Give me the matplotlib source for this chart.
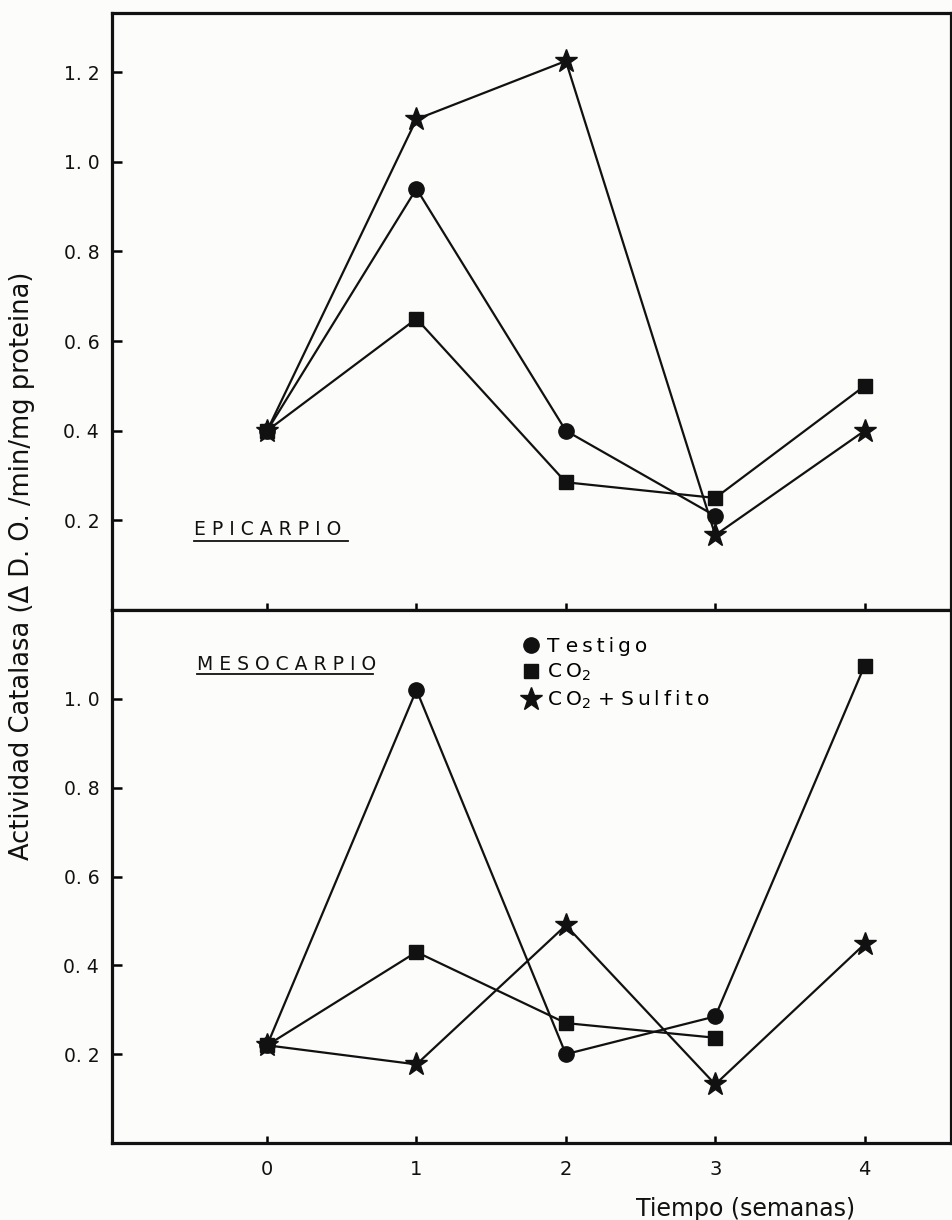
import matplotlib
matplotlib.use('Agg')
import matplotlib.pyplot as plt
from matplotlib.lines import Line2D

# data
weeks = [0, 1, 2, 3, 4]

# epicarpio (top panel)
epi_testigo = [0.40, 0.94, 0.40, 0.21]
epi_co2 = [0.40, 0.65, 0.285, 0.25, 0.50]
epi_sulfito = [0.40, 1.095, 1.225, 0.167, 0.40]

# mesocarpio (bottom panel)
meso_testigo = [0.22, 1.02, 0.20, 0.285]
meso_co2 = [0.22, 0.43, 0.27, 0.237, 1.075]
meso_sulfito = [0.22, 0.177, 0.49, 0.132, 0.448]

epi_yticks = [0.2, 0.4, 0.6, 0.8, 1.0, 1.2]
meso_yticks = [0.2, 0.4, 0.6, 0.8, 1.0]

black = '#111111'
bg = '#fcfcfa'
narrow = ['Liberation Sans Narrow', 'DejaVu Sans']
thin = '\u2009'


def spaced(s):
    # the original lettering is letter-spaced
    return thin.join(s)


series_names = ['T ' + spaced('estigo'),
                spaced('CO') + '$_2$',
                spaced('CO') + '$_2$ + ' + spaced('Sulfito')]

styles = [
    dict(marker='o', markersize=11),
    dict(marker='s', markersize=9.5),
    dict(marker='*', markersize=17),
]

fig = plt.figure(figsize=(9.53, 12.2), dpi=100, facecolor=bg)
ax_top = fig.add_axes([0.1172, 0.5, 0.881, 0.4893])
ax_bot = fig.add_axes([0.1172, 0.0631, 0.881, 0.4369])


def draw_series(ax, xs, ys, st, line_xs=None, line_ys=None):
    # line and markers drawn separately so a line can end on another series
    if line_xs is None:
        line_xs, line_ys = xs, ys
    ax.plot(line_xs, line_ys, color=black, lw=1.6)
    ax.plot(xs, ys, ls='none', color=black, markerfacecolor=black,
            markeredgecolor=black, **st)


def style_panel(ax, yticks, ymax):
    ax.set_facecolor(bg)
    ax.set_xlim(-1.04, 4.58)
    ax.set_ylim(0, ymax)
    ax.set_xticks(weeks)
    ax.set_yticks(yticks)
    ax.set_yticklabels([f'{t:.1f}'.replace('.', '. ') for t in yticks],
                       fontsize=13.5, color=black)
    ax.tick_params(axis='y', direction='in', length=7, width=1.8, pad=9)
    ax.tick_params(axis='x', direction='in', length=5, width=1.8, pad=12)
    for sp in ax.spines.values():
        sp.set_linewidth(2.3)
        sp.set_color(black)


# top panel
for ys, st in zip([epi_testigo, epi_co2, epi_sulfito], styles):
    draw_series(ax_top, weeks[:len(ys)], ys, st)
style_panel(ax_top, epi_yticks, 1.332)

# bottom panel: in the original the week-4 CO2 point is joined to the
# week-3 Testigo point, and the CO2 line stops at week 3
n = len(meso_testigo)
draw_series(ax_bot, weeks[:n], meso_testigo, styles[0],
            weeks, meso_testigo + meso_co2[n:])
draw_series(ax_bot, weeks, meso_co2, styles[1], weeks[:n], meso_co2[:n])
draw_series(ax_bot, weeks, meso_sulfito, styles[2])
style_panel(ax_bot, meso_yticks, 1.2)

ax_top.set_xticklabels([])
ax_bot.set_xticklabels([str(w) for w in weeks], fontsize=14,
                       family=narrow, color=black)

# panel titles, underlined
ax_top.text(-0.49, 0.18, 'E P I C A R P I O', fontsize=13.5, color=black,
            ha='left', va='center')
ax_top.plot([-0.49, 0.54], [0.153, 0.153], color=black, lw=1.3)
ax_bot.text(-0.47, 1.078, 'M E S O C A R P I O', fontsize=13.5, color=black,
            ha='left', va='center')
ax_bot.plot([-0.47, 0.71], [1.055, 1.055], color=black, lw=1.3)

# legend
handles = [Line2D([], [], color=black, ls='none', markerfacecolor=black,
                  markeredgecolor=black, **st) for st in styles]
ax_bot.legend(handles, series_names, loc='upper left',
              bbox_to_anchor=(0.492, 0.95), frameon=False, fontsize=14.5,
              handlelength=0.6, handletextpad=0.5, labelspacing=0.3,
              borderpad=0, borderaxespad=0)

fig.text(0.023, 0.536, 'Actividad Catalasa (\u0394 D. O. /min/mg proteina)',
         rotation=90, ha='center', va='center', fontsize=18.5, color=black)
fig.text(0.782, 0.009, 'Tiempo (semanas)', ha='center', va='center',
         fontsize=17, family=narrow, color=black)

fig.savefig('out.png', dpi=100, facecolor=bg)
